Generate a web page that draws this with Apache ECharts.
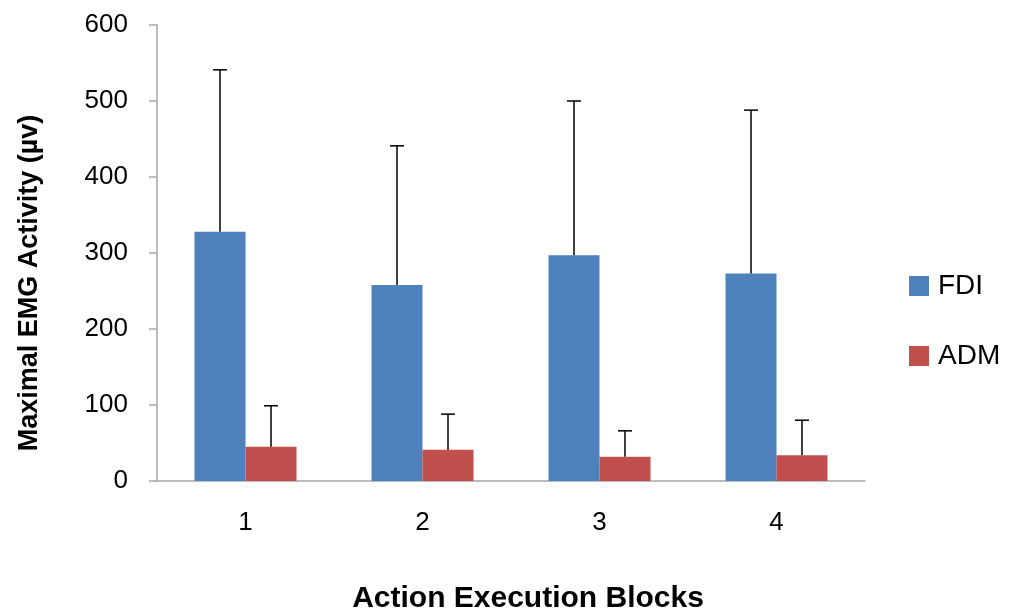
<!DOCTYPE html>
<html><head><meta charset="utf-8">
<script src="https://cdn.jsdelivr.net/npm/echarts@6/dist/echarts.min.js"></script>
<style>html,body{margin:0;padding:0;background:#fff}#c{width:1015px;height:614px}</style>
</head><body><div id="c"></div>
<script>
const categories = ['1', '2', '3', '4'];
const fdiMean = [328, 258, 297, 273];
const fdiErr = [213, 183, 203, 215];
const admMean = [45, 41, 32, 34];
const admErr = [54, 47, 34, 46];
const yTicks = [0, 100, 200, 300, 400, 500, 600];
const yTitle = 'Maximal EMG Activity (µv)';
const xTitle = 'Action Execution Blocks';

const FONT = 'Liberation Sans';
const BAR_W = 51;

function errData(mean, err) {
  return mean.map((m, i) => [i, m, m + err[i]]);
}
function errSeries(name, mean, err, dir) {
  return {
    type: 'custom', name: name + ' err', silent: true, z: 5,
    data: errData(mean, err),
    encode: { x: 0, y: [1, 2] },
    renderItem: function (params, api) {
      const lo = api.coord([api.value(0), api.value(1)]);
      const hi = api.coord([api.value(0), api.value(2)]);
      const x = lo[0] + dir * BAR_W / 2;
      const cap = 7;
      return {
        type: 'group',
        children: [
          { type: 'line', shape: { x1: x, y1: lo[1], x2: x, y2: hi[1] }, style: { stroke: '#000', lineWidth: 1.5 } },
          { type: 'line', shape: { x1: x - cap, y1: hi[1], x2: x + cap, y2: hi[1] }, style: { stroke: '#000', lineWidth: 1.5 } }
        ]
      };
    }
  };
}

const chart = echarts.init(document.getElementById('c'), null, { renderer: 'canvas' });
chart.setOption({
  animation: false,
  backgroundColor: '#fff',
  textStyle: { fontFamily: FONT },
  grid: { left: 157, right: 150, top: 25, bottom: 133, containLabel: false, outerBoundsMode: 'none' },
  legend: {
    orient: 'vertical', left: 909, top: 272, itemGap: 42, padding: 0,
    itemWidth: 20, itemHeight: 20, icon: 'rect',
    textStyle: { fontFamily: FONT, fontSize: 28, color: '#000', padding: [0, 0, 0, 4] },
    data: ['FDI', 'ADM']
  },
  graphic: [
    { type: 'text', x: 30, y: 283, rotation: Math.PI / 2,
      style: { text: yTitle, font: 'bold 27px "Liberation Sans"', fill: '#000',
        textAlign: 'center', textVerticalAlign: 'middle' } },
    { type: 'text', x: 528, y: 599,
      style: { text: xTitle, font: 'bold 30px "Liberation Sans"', fill: '#000',
        textAlign: 'center', textVerticalAlign: 'middle' } }
  ],
  xAxis: {
    type: 'category', data: categories,
    axisLine: { lineStyle: { color: '#a6a6a6', width: 1.5 } },
    axisTick: { show: false },
    axisLabel: { fontSize: 26, color: '#000', margin: 29, fontFamily: FONT }
  },
  yAxis: {
    type: 'value', min: 0, max: 600, interval: 100,
    axisLine: { show: true, lineStyle: { color: '#a6a6a6', width: 1.5 } },
    axisTick: { show: true, length: 8, lineStyle: { color: '#a6a6a6', width: 1.5 } },
    splitLine: { show: false },
    axisLabel: { fontSize: 26, color: '#000', margin: 29, fontFamily: FONT,
      formatter: v => yTicks.includes(v) ? String(v) : '' }
  },
  series: [
    { type: 'bar', name: 'FDI', data: fdiMean, barWidth: BAR_W, barGap: '0%',
      itemStyle: { color: '#4f81bd' } },
    { type: 'bar', name: 'ADM', data: admMean, barWidth: BAR_W, barGap: '0%',
      itemStyle: { color: '#c0504d' } },
    errSeries('FDI', fdiMean, fdiErr, -1),
    errSeries('ADM', admMean, admErr, 1)
  ]
});
</script></body></html>
